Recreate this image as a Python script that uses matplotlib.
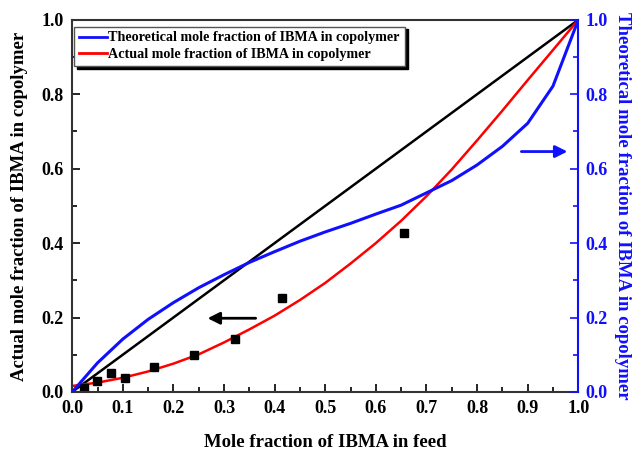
import matplotlib.pyplot as plt
import numpy as np
from matplotlib.lines import Line2D

plt.rcParams['font.family'] = ['Liberation Serif', 'DejaVu Serif']
plt.rcParams['font.weight'] = 'bold'

# feed fraction grid for the curves
feed = [0.00, 0.05, 0.10, 0.15, 0.20, 0.25, 0.30, 0.35, 0.40, 0.45, 0.50,
        0.55, 0.60, 0.65, 0.70, 0.75, 0.80, 0.85, 0.90, 0.95, 1.00]
theo = [0.000, 0.078, 0.142, 0.195, 0.240, 0.280, 0.315, 0.348, 0.377, 0.405, 0.430,
        0.453, 0.478, 0.502, 0.535, 0.568, 0.610, 0.660, 0.722, 0.822, 1.000]
actual_fit = [0.016, 0.025, 0.038, 0.055, 0.076, 0.101, 0.133, 0.168, 0.205, 0.247, 0.293,
              0.345, 0.400, 0.460, 0.526, 0.598, 0.676, 0.756, 0.838, 0.919, 1.000]

# measured points
meas_x = [0.024, 0.049, 0.077, 0.105, 0.162, 0.240, 0.321, 0.414, 0.656]
meas_y = [0.011, 0.029, 0.050, 0.038, 0.068, 0.098, 0.142, 0.253, 0.428]

blue = '#1010ff'

fig = plt.figure(figsize=(6.39, 4.51), dpi=100)
ax = fig.add_axes([0.113, 0.131, 0.792, 0.825])
ax2 = ax.twinx()

ax.plot([0, 1], [0, 1], color='black', lw=1.8)
ax.plot(feed, actual_fit, color='red', lw=1.8)
ax.plot(meas_x, meas_y, 's', color='black', ms=6)
ax2.plot(feed, theo, color=blue, lw=2.2)

for a in (ax, ax2):
    a.set_xlim(0, 1)
    a.set_ylim(0, 1)
ax.set_xticks(np.arange(0, 1.01, 0.1))
ax.set_xticks(np.arange(0.05, 1.0, 0.1), minor=True)
ax.set_yticks(np.arange(0, 1.01, 0.2))
ax.set_yticks(np.arange(0.1, 1.0, 0.2), minor=True)
ax2.set_yticks(np.arange(0, 1.01, 0.2))
ax2.set_yticks(np.arange(0.1, 1.0, 0.2), minor=True)

ax.tick_params(which='both', direction='in', labelsize=13, width=1.2)
ax.tick_params(which='major', length=6)
ax.tick_params(which='minor', length=3.5)
ax.tick_params(axis='y', right=False, pad=6)
ax.tick_params(axis='x', pad=6)
ax2.tick_params(which='both', direction='in', colors=blue, labelsize=13, width=1.2)
ax2.tick_params(which='major', length=6, pad=5)
ax2.tick_params(which='minor', length=3.5)

for s in ('left', 'bottom', 'top'):
    ax.spines[s].set_linewidth(1.5)
    ax.spines[s].set_color('#333333')
ax2.spines['right'].set_color(blue)
ax2.spines['right'].set_linewidth(1.5)
ax.spines['right'].set_visible(False)
ax2.spines['left'].set_visible(False)
ax2.spines['top'].set_visible(False)
ax2.spines['bottom'].set_visible(False)

ax.set_xticklabels(['%.1f' % v for v in np.arange(0, 1.01, 0.1)], fontweight='bold')
ax.set_yticklabels(['%.1f' % v for v in np.arange(0, 1.01, 0.2)], fontweight='bold')
ax2.set_yticklabels(['%.1f' % v for v in np.arange(0, 1.01, 0.2)], fontweight='bold')

ax.set_xlabel('Mole fraction of IBMA in feed', fontsize=13.5, fontweight='bold', labelpad=12)
ax.set_ylabel('Actual mole fraction of IBMA in copolymer', fontsize=13.5, fontweight='bold',
              labelpad=10)
ax2.set_ylabel('Theoretical mole fraction of IBMA in copolymer', fontsize=13.5, fontweight='bold',
               color=blue, rotation=270, labelpad=17)

# direction arrows
ax.annotate('', xy=(0.262, 0.198), xytext=(0.368, 0.198),
            arrowprops=dict(arrowstyle='-|>', color='black', lw=2, mutation_scale=18))
ax.annotate('', xy=(0.984, 0.646), xytext=(0.882, 0.646),
            arrowprops=dict(arrowstyle='-|>', color=blue, lw=2, mutation_scale=18))

handles = [Line2D([], [], color=blue, lw=2),
           Line2D([], [], color='red', lw=2)]
labels = ['Theoretical mole fraction of IBMA in copolymer',
          'Actual mole fraction of IBMA in copolymer']
leg = ax2.legend(handles, labels, loc='upper left', bbox_to_anchor=(0.003, 0.982),
                 borderaxespad=0,
                 prop={'family': 'Liberation Serif', 'weight': 'bold', 'size': 10.2},
                 handlelength=2.0, handletextpad=0.1, borderpad=0.35, labelspacing=0.25,
                 fancybox=False, shadow={'color': 'black', 'alpha': 1}, framealpha=1,
                 edgecolor='#555555')
leg.get_frame().set_linewidth(1)

fig.savefig('out.png', dpi=100)
